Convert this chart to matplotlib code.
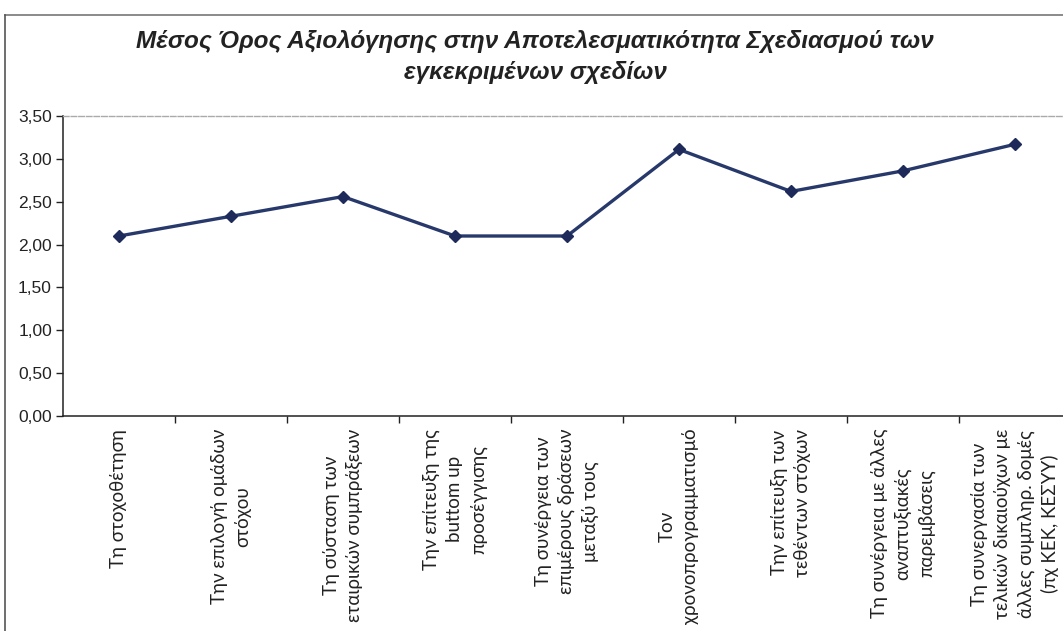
import matplotlib.pyplot as plt
from matplotlib.ticker import FixedLocator, FuncFormatter

categories = [
    "Τη στοχοθέτηση",
    "Την επιλογή ομάδων\nστόχου",
    "Τη σύσταση των\nεταιρικών συμπράξεων",
    "Την επίτευξη της\nbuttom up\nπροσέγγισης",
    "Τη συνέργεια των\nεπιμέρους δράσεων\nμεταξύ τους",
    "Τον\nχρονοπρογραμματισμό",
    "Την επίτευξη των\nτεθέντων στόχων",
    "Τη συνέργεια με άλλες\nαναπτυξιακές\nπαρεμβάσεις",
    "Τη συνεργασία των\nτελικών δικαιούχων με\nάλλες συμπληρ. δομές\n(πχ ΚΕΚ, ΚΕΣΥΥ)",
]
scores = [2.10, 2.33, 2.56, 2.10, 2.10, 3.11, 2.62, 2.86, 3.17]
yticks = [0.0, 0.5, 1.0, 1.5, 2.0, 2.5, 3.0, 3.5]

W, H = 1063, 631
fig = plt.figure(figsize=(W / 100, H / 100), dpi=100)
fig.patch.set_facecolor("white")

# chart frame (top and left edges visible)
fig.add_artist(plt.Line2D([5 / W, 1], [1 - 15 / H, 1 - 15 / H], color="#777777", lw=1.2))
fig.add_artist(plt.Line2D([5 / W, 5 / W], [0, 1 - 15 / H], color="#555555", lw=1.2))

ax = fig.add_axes([63 / W, 215 / H, 1008 / W, 300 / H])
ax.set_facecolor("white")

x = list(range(len(scores)))
ax.plot(x, scores, color="#27386b", lw=2.4, marker="D", markersize=6.5,
        markerfacecolor="#1e2a5a", markeredgecolor="#1e2a5a", zorder=3)

ax.set_xlim(-0.5, len(scores) - 0.5)
ax.set_ylim(0, 3.5)
ax.yaxis.set_major_locator(FixedLocator(yticks))
ax.yaxis.set_major_formatter(FuncFormatter(lambda v, p: f"{v:.2f}".replace(".", ",")))
for t in ax.get_yticklabels():
    t.set_family(["Liberation Sans", "DejaVu Sans"])
    t.set_fontsize(12.5)
ax.tick_params(axis="y", length=5, width=1, colors="#222222", pad=3)

# category boundaries carry the x ticks, labels sit at the centres
ax.set_xticks([i + 0.5 for i in x])
ax.set_xticklabels([])
ax.tick_params(axis="x", length=5, width=1, direction="out", colors="#222222")
for i, lab in enumerate(categories):
    ax.text(i, -0.15, lab, rotation=90, ha="center", va="top", fontsize=13.5,
            family=["Lato", "DejaVu Sans"], color="#222222", linespacing=1.45,
            transform=ax.transData, multialignment="center")

for side in ["left", "bottom"]:
    ax.spines[side].set_color("#222222")
    ax.spines[side].set_linewidth(1.1)
ax.spines["top"].set_color("#aaaaaa")
ax.spines["top"].set_linestyle((0, (4, 1.5)))
ax.spines["top"].set_linewidth(1.0)
ax.spines["right"].set_visible(False)

fig.text(535 / W, 1 - 57 / H,
         "Μέσος Όρος Αξιολόγησης στην Αποτελεσματικότητα Σχεδιασμού των\nεγκεκριμένων σχεδίων",
         ha="center", va="center", fontsize=17.5, fontweight="bold", fontstyle="italic",
         family=["Liberation Sans Narrow", "Liberation Sans", "DejaVu Sans"],
         color="#222222", linespacing=1.45)

fig.savefig("out.png", dpi=100)
